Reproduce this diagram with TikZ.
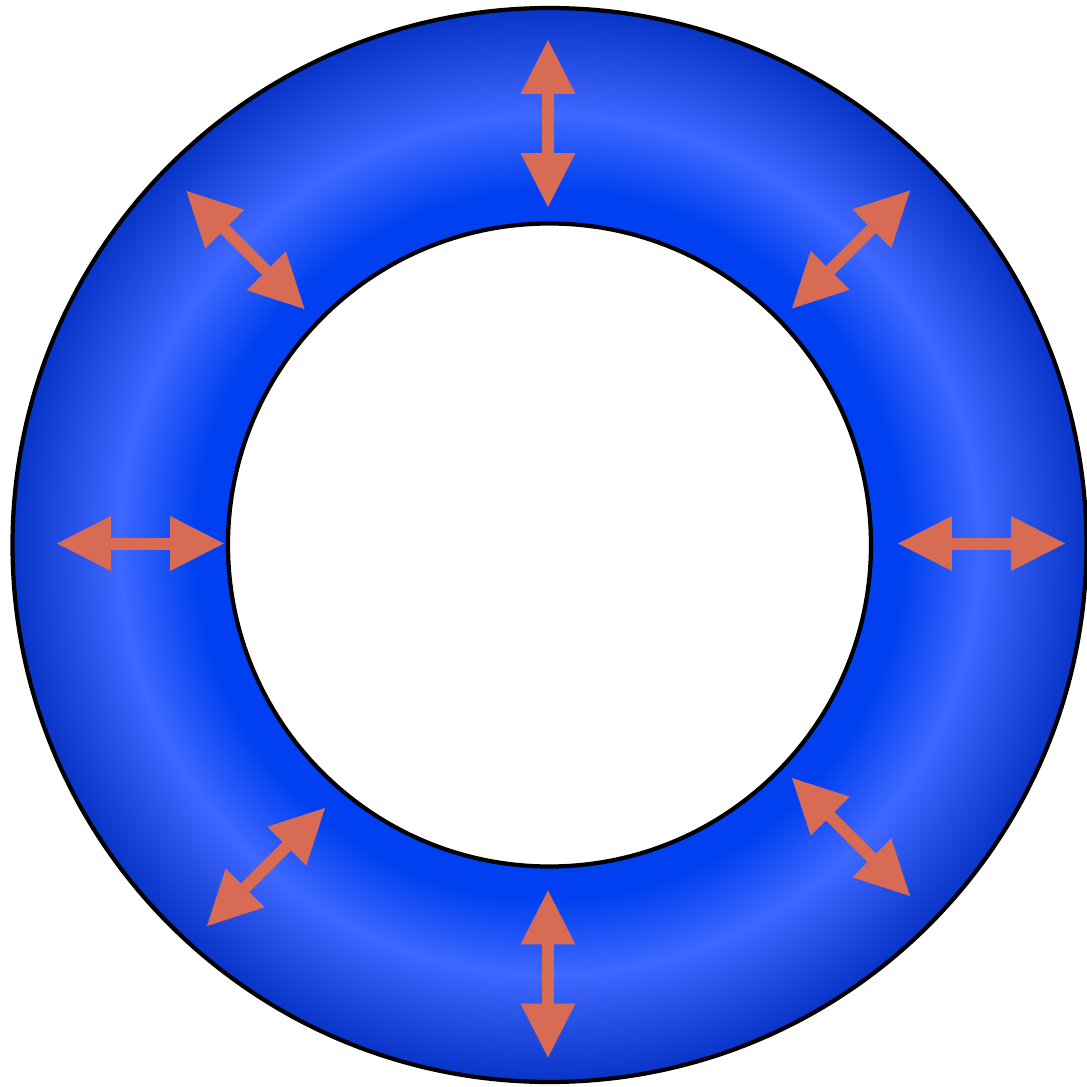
\documentclass[tikz,border=0pt]{standalone}
\usepackage{tikz}
\usetikzlibrary{arrows.meta}

\definecolor{ringdeep}{RGB}{0,64,240}
\definecolor{ringglow}{RGB}{62,104,255}
\definecolor{ringedge}{RGB}{8,52,200}
\definecolor{pushred}{RGB}{216,107,83}
% Radius 25bp is the outer rim, 15bp the hole.
\pgfdeclareradialshading{ringglow}{\pgfpoint{0bp}{0bp}}{%
  color(0bp)=(ringdeep); color(16.5bp)=(ringdeep);
  color(20bp)=(ringglow); color(25bp)=(ringedge); color(50bp)=(ringedge)}

\begin{document}
\begin{tikzpicture}[
      rim/.style={draw=black, line width=1.2pt},
      push/.style={{Triangle[length=0.54cm, width=0.55cm, line width=0pt]}-{Triangle[length=0.54cm, width=0.55cm, line width=0pt]},
                   line width=0.12cm, pushred},
    ]
    \useasboundingbox (0,0) rectangle (10.87,10.87);
    \coordinate (o) at (5.495,5.42);
    % The ring itself: one shaded path with a hole.
    \shade[shading=ringglow, even odd rule] (o) circle (5.37) (o) circle (3.215);
    \draw[rim] (o) circle (5.37);
    \draw[rim, fill=white] (o) circle (3.215);
    % Eight double arrows, given by their middle and their direction.
    \foreach \x/\y/\a [count=\i] in {5.48/9.635/90, 8.51/8.375/45, 9.815/5.435/0,
        8.51/2.50/-45, 5.48/1.13/-90, 2.66/2.20/-135, 1.405/5.435/180, 2.455/8.37/135} {
      \coordinate (in\i) at ([shift={(\a+180:0.835)}]\x,\y);
      \coordinate (out\i) at ([shift={(\a:0.835)}]\x,\y);
      \draw[push] (in\i) -- (out\i);
    }
  \end{tikzpicture}
\end{document}
